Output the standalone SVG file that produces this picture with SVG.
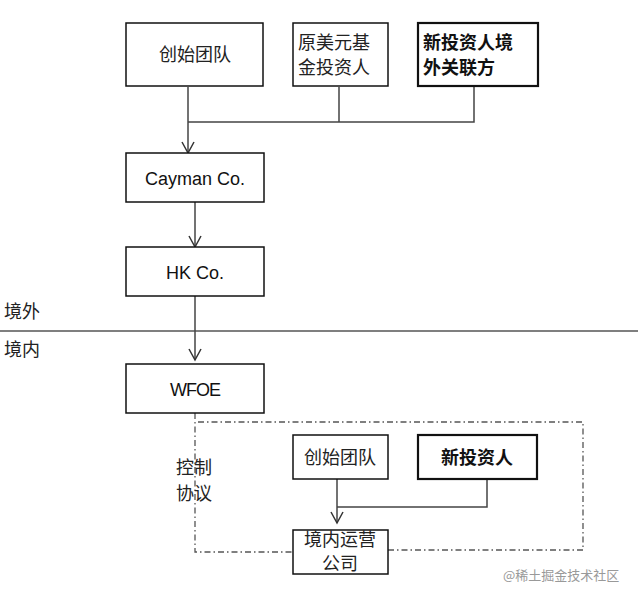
<svg xmlns="http://www.w3.org/2000/svg" width="640" height="599" viewBox="0 0 640 599">
<style>
.box{fill:#fff;stroke:#111;stroke-width:1.5}
.bold{stroke-width:2.2}
.ln{fill:none;stroke:#444;stroke-width:1.5}
.dd{fill:none;stroke:#555;stroke-width:1.3;stroke-dasharray:6 3 1.5 3}
.t{font-family:"Liberation Sans","Noto Sans CJK SC",sans-serif;font-size:18px;fill:#111}
.tb{font-family:"Noto Sans CJK SC",sans-serif;font-size:18px;font-weight:bold;fill:#111}
.cj{font-family:"Noto Sans CJK SC",sans-serif;font-size:18px;fill:#222}
</style>
<defs>
<marker id="ah" markerWidth="14" markerHeight="14" refX="12" refY="7" orient="auto" markerUnits="userSpaceOnUse" viewBox="0 0 14 14">
<path d="M1,1 L12,7 L1,13" fill="none" stroke="#333" stroke-width="1.5"/>
</marker>
</defs>
<rect x="0" y="0" width="640" height="599" fill="#fff"/>
<g id="boundary">
<line x1="0" y1="331" x2="638" y2="331" stroke="#555" stroke-width="1.3"/>
<text class="cj" x="4" y="318" font-size="16">境外</text>
<text class="cj" x="4" y="356" font-size="16">境内</text>
</g>
<g id="control-frame">
<path class="dd" d="M195,413 L195,552 L293,552 M388,550 L583,550 L583,422 L197,422"/>
<text class="cj" x="176" y="474" font-size="17">控制</text>
<text class="cj" x="176" y="500" font-size="17">协议</text>
</g>
<g id="connectors">
<path class="ln" d="M188,87 L188,153" marker-end="url(#ah)"/>
<path class="ln" d="M188,122 L474,122 L474,87 M339,122 L339,87"/>
<path class="ln" d="M195,202 L195,247" marker-end="url(#ah)"/>
<path class="ln" d="M195,296 L195,360" marker-end="url(#ah)"/>
<path class="ln" d="M337,479 L337,523" marker-end="url(#ah)"/>
<path class="ln" d="M337,507 L487,507 L487,479"/>
</g>
<g id="founders">
<rect class="box" x="126" y="23" width="137" height="63"/>
<text class="cj" x="195" y="61" text-anchor="middle">创始团队</text>
</g>
<g id="usd-fund">
<rect class="box" x="293" y="23" width="95" height="63"/>
<text class="cj" x="298" y="49">原美元基</text>
<text class="cj" x="298" y="74">金投资人</text>
</g>
<g id="new-investor-offshore">
<rect class="box bold" x="418" y="23" width="120" height="63"/>
<text class="tb" x="423" y="49" font-size="19">新投资人境</text>
<text class="tb" x="423" y="74" font-size="19">外关联方</text>
</g>
<g id="cayman">
<rect class="box" x="126" y="153" width="138" height="49"/>
<text class="t" x="195" y="185" text-anchor="middle">Cayman Co.</text>
</g>
<g id="hk">
<rect class="box" x="126" y="247" width="138" height="49"/>
<text class="t" x="195" y="279" text-anchor="middle">HK Co.</text>
</g>
<g id="wfoe">
<rect class="box" x="126" y="364" width="138" height="49"/>
<text class="t" x="195" y="396" text-anchor="middle" letter-spacing="-1">WFOE</text>
</g>
<g id="founders-2">
<rect class="box" x="293" y="435" width="95" height="44"/>
<text class="cj" x="340" y="464" text-anchor="middle">创始团队</text>
</g>
<g id="new-investor">
<rect class="box bold" x="418" y="435" width="119" height="44"/>
<text class="tb" x="477" y="464" text-anchor="middle">新投资人</text>
</g>
<g id="domestic-co">
<rect class="box" x="293" y="530" width="95" height="44"/>
<text class="cj" x="340" y="546" text-anchor="middle" font-size="16">境内运营</text>
<text class="cj" x="340" y="570" text-anchor="middle" font-size="16">公司</text>
</g>
<text x="503" y="580" font-family="Noto Sans CJK SC,sans-serif" font-size="13" fill="#999">@稀土掘金技术社区</text>
</svg>
